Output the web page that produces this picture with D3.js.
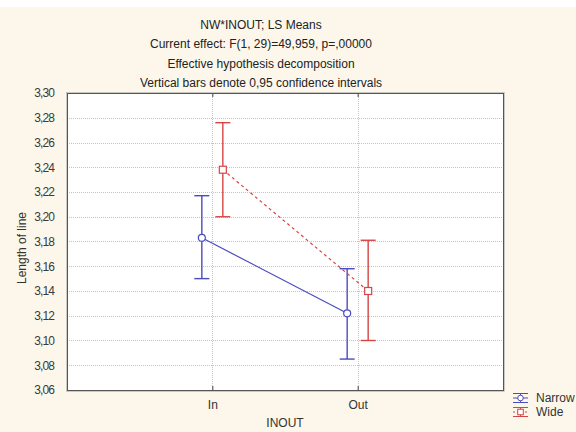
<!DOCTYPE html>
<html><head><meta charset="utf-8">
<script src="https://cdn.jsdelivr.net/npm/d3@7"></script>
<style>
html,body{margin:0;padding:0;background:#fff;}
svg{display:block;font-family:"Liberation Sans",Arial,sans-serif;}
</style></head>
<body>
<script>
const titleLines = ["NW*INOUT; LS Means","Current effect: F(1, 29)=49,959, p=,00000","Effective hypothesis decomposition","Vertical bars denote 0,95 confidence intervals"];
const categories = ["In","Out"];
const seriesNames = ["Narrow","Wide"];
const narrowMeans = [3.183, 3.122];
const narrowLower = [3.150, 3.085];
const narrowUpper = [3.217, 3.158];
const wideMeans = [3.238, 3.140];
const wideLower = [3.200, 3.100];
const wideUpper = [3.276, 3.181];
const yTicks = [3.06,3.08,3.10,3.12,3.14,3.16,3.18,3.20,3.22,3.24,3.26,3.28,3.30];
const xTitle = "INOUT";
const yTitle = "Length of line";

const W=576,H=432;
const L=67,R=503,T=93,B=390;
const colors = {Narrow:"#4b4bc2", Wide:"#d64545"};
const svg = d3.select("body").append("svg").attr("width",W).attr("height",H);
svg.append("rect").attr("x",0).attr("y",7).attr("width",W).attr("height",H-7).attr("fill","#fcf7ea");

const x = d3.scalePoint().domain(categories).range([L,R]).padding(1);
const off = d3.scalePoint().domain(seriesNames).range([-10.5,10.5]);
const y = d3.scaleLinear().domain([3.06,3.30]).range([B,T]);

svg.append("rect").attr("x",L).attr("y",T).attr("width",R-L).attr("height",B-T).attr("fill","#fff");

const grid = svg.append("g");
grid.selectAll("line.h").data(yTicks.slice(1,-1)).join("line")
  .attr("x1",L).attr("x2",R).attr("y1",d=>Math.round(y(d))+0.5).attr("y2",d=>Math.round(y(d))+0.5)
  .attr("stroke","#c4c4c4").attr("stroke-dasharray","1,1");
grid.selectAll("line.v").data(categories).join("line")
  .attr("y1",T).attr("y2",B).attr("x1",d=>Math.round(x(d))+0.5).attr("x2",d=>Math.round(x(d))+0.5)
  .attr("stroke","#c4c4c4").attr("stroke-dasharray","1,1");

const yAxis = d3.axisLeft(y).tickValues(yTicks).tickSize(0).tickPadding(13).tickFormat(d=>d3.format(".2f")(d).replace(".",","));
const gy = svg.append("g").attr("transform",`translate(${L},0)`).call(yAxis);
gy.select(".domain").remove();
gy.selectAll("text").attr("font-size","12px").attr("letter-spacing","-0.9px").attr("fill","#3a3a3a").attr("font-family","Liberation Sans, Arial, sans-serif");

const xAxis = d3.axisBottom(x).tickSize(-4).tickPadding(10);
const gx = svg.append("g").attr("transform",`translate(0,${B})`).call(xAxis);
gx.select(".domain").remove();
gx.selectAll("line").attr("stroke","#444");
gx.selectAll("text").attr("font-size","12px").attr("fill","#333").attr("font-family","Liberation Sans, Arial, sans-serif");
const xTop = d3.axisTop(x).tickSize(-4).tickFormat("");
const gxt = svg.append("g").attr("transform",`translate(0,${T})`).call(xTop);
gxt.select(".domain").remove();
gxt.selectAll("line").attr("stroke","#444");

svg.append("rect").attr("x",L+0.5).attr("y",T+0.5).attr("width",R-L).attr("height",B-T)
  .attr("fill","none").attr("stroke","#555").attr("stroke-width",1);
svg.append("rect").attr("x",L-0.5).attr("y",T-0.5).attr("width",R-L+2).attr("height",B-T+2)
  .attr("fill","none").attr("stroke","#aaa").attr("stroke-width",0.6);

const series = [
  {name:"Narrow", m:narrowMeans, lo:narrowLower, hi:narrowUpper, dash:null, shape:"circle"},
  {name:"Wide", m:wideMeans, lo:wideLower, hi:wideUpper, dash:"3,3", shape:"square"}
];
const capW = 7.5;
series.forEach(s=>{
  const col = colors[s.name];
  const g = svg.append("g");
  const pts = categories.map((c,i)=>({c,i,x:x(c)+off(s.name),m:s.m[i],lo:s.lo[i],hi:s.hi[i]}));
  g.append("path").datum(pts).attr("d",d3.line().x(d=>d.x).y(d=>y(d.m)))
    .attr("fill","none").attr("stroke",col).attr("stroke-width",1.2).attr("stroke-dasharray",s.dash);
  pts.forEach(p=>{
    g.append("line").attr("x1",p.x).attr("x2",p.x).attr("y1",y(p.lo)).attr("y2",y(p.hi)).attr("stroke",col).attr("stroke-width",1.4);
    [p.lo,p.hi].forEach(v=>g.append("line").attr("x1",p.x-capW).attr("x2",p.x+capW).attr("y1",y(v)).attr("y2",y(v)).attr("stroke",col).attr("stroke-width",1.4));
    if(s.shape==="circle") g.append("circle").attr("cx",p.x).attr("cy",y(p.m)).attr("r",3.5).attr("fill","#fff").attr("stroke",col).attr("stroke-width",1.2);
    else g.append("rect").attr("x",p.x-3.5).attr("y",y(p.m)-3.5).attr("width",7).attr("height",7).attr("fill","#fff").attr("stroke",col).attr("stroke-width",1.2);
  });
});

const tg = svg.append("g").attr("font-size","12px").attr("fill","#222").attr("text-anchor","middle");
tg.selectAll("text").data(titleLines).join("text").attr("x",261).attr("y",(d,i)=>29+i*19.3).text(d=>d);
svg.append("text").attr("x",(L+R)/2).attr("y",427).attr("text-anchor","middle").attr("font-size","12px").attr("fill","#333").text(xTitle);
svg.append("text").attr("transform","translate(26,248) rotate(-90)").attr("text-anchor","middle").attr("font-size","12px").attr("fill","#333").text(yTitle);

const lg = svg.append("g");
seriesNames.forEach((n,i)=>{
  const col=colors[n]; const cy=398+i*14; const x0=513,x1=528,xm=520.5;
  const gg=lg.append("g");
  gg.append("line").attr("x1",x0).attr("x2",x1).attr("y1",cy-4.5).attr("y2",cy-4.5).attr("stroke",col);
  gg.append("line").attr("x1",x0).attr("x2",x1).attr("y1",cy+4.5).attr("y2",cy+4.5).attr("stroke",col);
  gg.append("line").attr("x1",x0).attr("x2",x1).attr("y1",cy).attr("y2",cy).attr("stroke",col).attr("stroke-dasharray",n==="Wide"?"2,2":null);
  gg.append("line").attr("x1",xm).attr("x2",xm).attr("y1",cy-4.5).attr("y2",cy+4.5).attr("stroke",col);
  if(n==="Narrow") gg.append("circle").attr("cx",xm).attr("cy",cy).attr("r",2.8).attr("fill","#fff").attr("stroke",col);
  else gg.append("rect").attr("x",xm-2.8).attr("y",cy-2.8).attr("width",5.6).attr("height",5.6).attr("fill","#fff").attr("stroke",col);
  gg.append("text").attr("x",536).attr("y",cy+4).attr("font-size","12px").attr("fill","#333").text(n);
});
</script>
</body></html>
